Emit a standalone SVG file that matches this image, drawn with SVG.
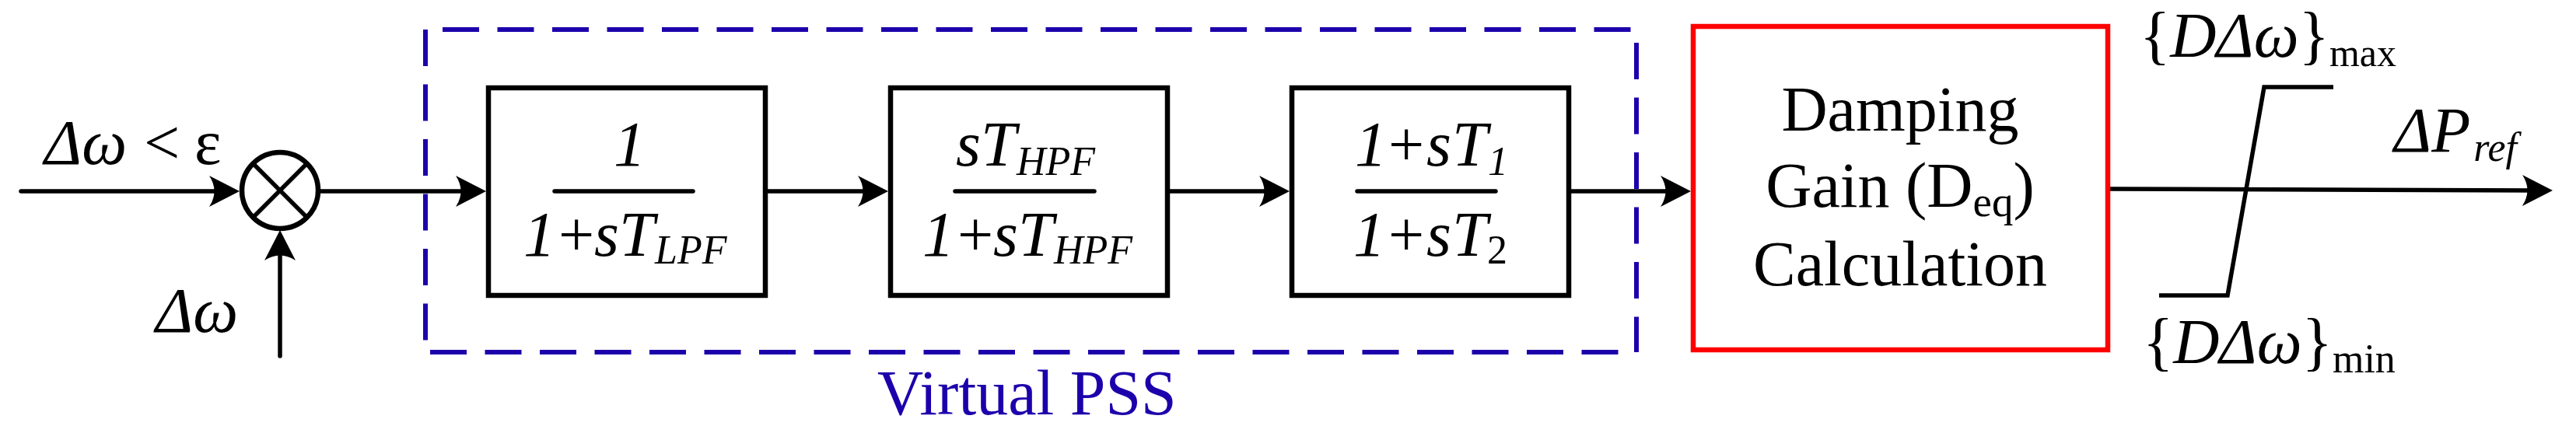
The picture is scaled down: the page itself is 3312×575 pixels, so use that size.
<svg xmlns="http://www.w3.org/2000/svg" width="3312" height="575" viewBox="0 0 3312 575">
<style>
.ln{stroke:#000;stroke-width:5.5;fill:none}
.fr{stroke:#000;stroke-width:5.5;fill:none;stroke-linecap:round}
.blk{fill:#fff;stroke:#000;stroke-width:6.5}
.red{fill:#fff;stroke:#ff0000;stroke-width:6.5}
.dash{stroke:#1c00ab;stroke-width:6;stroke-dasharray:47 23.5;fill:none}
.t{font-family:"Liberation Serif","Times New Roman","DejaVu Serif",serif;font-size:82px;fill:#000}
.i{font-style:italic}
.up{font-style:normal}
.sub{font-size:52px}
.blue{fill:#1c00ab}
</style>
<defs>
<marker id="ah" markerUnits="userSpaceOnUse" markerWidth="42" markerHeight="42" viewBox="0 -21 42 42" refX="18" refY="0" orient="auto">
<path d="M39,0 L0,-20 Q13,0 0,20 Z" fill="#000"/>
</marker>
</defs>

<g id="virtual-pss">
<path class="dash" d="M569,38 H2104"/>
<path class="dash" d="M547,38 V453"/>
<path class="dash" d="M553,453 H2104"/>
<path class="dash" d="M2104,55 V453"/>
<text class="t blue" x="1128" y="533">Virtual PSS</text>
</g>

<g id="connectors">
<path class="ln" d="M27,246 H287" stroke-linecap="round" marker-end="url(#ah)"/>
<path class="ln" d="M360,458 V317" stroke-linecap="round" marker-end="url(#ah)"/>
<path class="ln" d="M412,246 H604" marker-end="url(#ah)"/>
<path class="ln" d="M987,246 H1121" marker-end="url(#ah)"/>
<path class="ln" d="M1504,246 H1637" marker-end="url(#ah)"/>
<path class="ln" d="M2020,246 H2153" marker-end="url(#ah)"/>
<path class="ln" d="M2713,243 L3261,245" marker-end="url(#ah)"/>
</g>

<g id="labels">
<text class="t" y="211"><tspan class="i" x="57">Δω</tspan><tspan x="185">&lt;</tspan><tspan x="250">ε</tspan></text>
<text class="t i" x="200" y="427">Δω</text>
</g>

<g id="summing-junction">
<circle cx="360" cy="245" r="49" fill="#fff" stroke="#000" stroke-width="6.5"/>
<path class="ln" d="M325,210 L395,280 M395,210 L325,280"/>
</g>

<g id="lpf-block">
<rect class="blk" x="628" y="113" width="356" height="267"/>
<path class="fr" d="M713,246 H891"/>
<text class="t i" x="789" y="213">1</text>
<text class="t i" y="329"><tspan x="673">1</tspan><tspan class="up" x="718">+</tspan><tspan x="764">s</tspan><tspan x="796">T</tspan><tspan class="sub" x="842" y="339">LPF</tspan></text>
</g>

<g id="hpf-block">
<rect class="blk" x="1145" y="113" width="356" height="267"/>
<path class="fr" d="M1228,246 H1407"/>
<text class="t i" y="213"><tspan x="1229">s</tspan><tspan x="1261">T</tspan><tspan class="sub" x="1307" y="225">HPF</tspan></text>
<text class="t i" y="329"><tspan x="1186">1</tspan><tspan class="up" x="1231">+</tspan><tspan x="1277">s</tspan><tspan x="1309">T</tspan><tspan class="sub" x="1355" y="339">HPF</tspan></text>
</g>

<g id="leadlag-block">
<rect class="blk" x="1661" y="113" width="356" height="267"/>
<path class="fr" d="M1745,246 H1923"/>
<text class="t i" y="213"><tspan x="1742">1</tspan><tspan class="up" x="1785">+</tspan><tspan x="1834">s</tspan><tspan x="1867">T</tspan><tspan class="sub" x="1913" y="225">1</tspan></text>
<text class="t i" y="329"><tspan x="1740">1</tspan><tspan class="up" x="1785">+</tspan><tspan x="1834">s</tspan><tspan x="1867">T</tspan><tspan class="sub up" x="1912" y="339">2</tspan></text>
</g>

<g id="damping-gain">
<rect class="red" x="2177" y="34" width="533" height="416"/>
<text class="t" x="2443" y="168" text-anchor="middle">Damping</text>
<text class="t" x="2443" y="266" text-anchor="middle">Gain (D<tspan font-size="55" dy="12">eq</tspan><tspan dy="-12">)</tspan></text>
<text class="t" x="2443" y="367" text-anchor="middle">Calculation</text>
</g>

<g id="saturation">
<path class="ln" d="M2776,380 H2864 L2911,112 H3000"/>
<text class="t" x="2751" y="73">{<tspan class="i">DΔω</tspan>}<tspan font-size="50" dy="12">max</tspan></text>
<text class="t" x="2755" y="467">{<tspan class="i">DΔω</tspan>}<tspan font-size="52" dy="12">min</tspan></text>
</g>

<g id="output-label">
<text class="t i" x="3078" y="195">ΔP<tspan class="sub" dx="4" y="207">ref</tspan></text>
</g>
</svg>
